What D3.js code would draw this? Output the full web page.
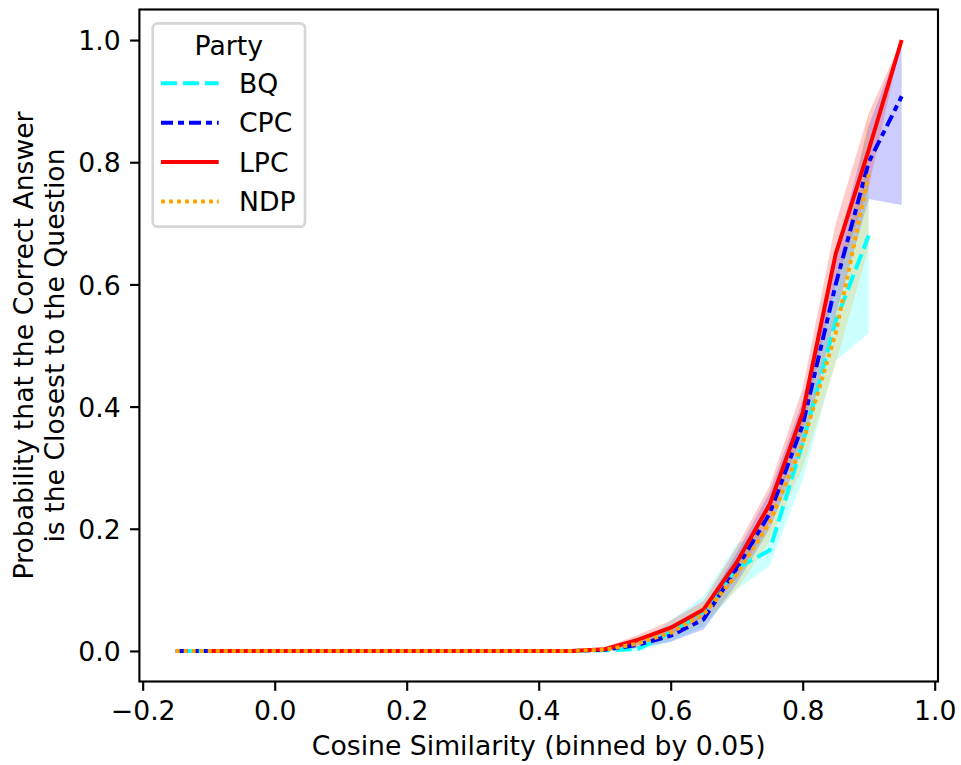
<!DOCTYPE html>
<html>
<head>
<meta charset="utf-8">
<script src="https://cdn.jsdelivr.net/npm/d3@7"></script>
<style>
  body { margin: 0; background: #fff; }
  text { font-family: "DejaVu Sans", sans-serif; fill: #000; }
</style>
</head>
<body>
<div id="vis"></div>
<script>
const WIDTH = 961;
const HEIGHT = 765;

// bins of cosine similarity
const bins = [-0.15, -0.10, -0.05, 0.00, 0.05, 0.10, 0.15, 0.20, 0.25, 0.30, 0.35, 0.40,
  0.45, 0.50, 0.55, 0.60, 0.65, 0.70, 0.75, 0.80, 0.85, 0.90, 0.95];

const parties = ["BQ", "CPC", "LPC", "NDP"];

// media por partido
const bqMean  = [0,0,0,0,0,0,0,0,0,0,0,0,0, 0.001, 0.003, 0.030, 0.065, 0.135, 0.165, 0.340, 0.540, 0.680, null];
const cpcMean = [0,0,0,0,0,0,0,0,0,0,0,0,0, 0.002, 0.010, 0.025, 0.052, 0.135, 0.225, 0.370, 0.600, 0.800, 0.908];
const lpcMean = [null,0,0,0,0,0,0,0,0,0,0,0,0, 0.003, 0.018, 0.038, 0.068, 0.145, 0.240, 0.390, 0.650, 0.820, 1.000];
const ndpMean = [0,0,0,0,0,0,0,0,0,0,0,0,0, 0.002, 0.012, 0.030, 0.060, 0.125, 0.210, 0.340, 0.520, 0.780, null];

// intervalos de confianza
const bqLow  = [0,0,0,0,0,0,0,0,0,0,0,0,0, 0.000, 0.000, 0.015, 0.040, 0.100, 0.140, 0.280, 0.475, 0.520, null];
const bqHigh = [0,0,0,0,0,0,0,0,0,0,0,0,0, 0.004, 0.008, 0.050, 0.090, 0.175, 0.200, 0.400, 0.610, 0.800, null];
const cpcLow  = [0,0,0,0,0,0,0,0,0,0,0,0,0, 0.000, 0.005, 0.015, 0.035, 0.110, 0.200, 0.330, 0.550, 0.740, 0.730];
const cpcHigh = [0,0,0,0,0,0,0,0,0,0,0,0,0, 0.005, 0.016, 0.035, 0.070, 0.160, 0.260, 0.410, 0.650, 0.860, 1.000];
const lpcLow  = [null,0,0,0,0,0,0,0,0,0,0,0,0, 0.000, 0.010, 0.028, 0.055, 0.120, 0.210, 0.360, 0.600, 0.760, 1.000];
const lpcHigh = [null,0,0,0,0,0,0,0,0,0,0,0,0, 0.006, 0.026, 0.050, 0.082, 0.170, 0.270, 0.430, 0.700, 0.880, 1.000];
const ndpLow  = [0,0,0,0,0,0,0,0,0,0,0,0,0, 0.000, 0.005, 0.020, 0.045, 0.100, 0.180, 0.300, 0.470, 0.660, null];
const ndpHigh = [0,0,0,0,0,0,0,0,0,0,0,0,0, 0.004, 0.020, 0.040, 0.075, 0.150, 0.240, 0.380, 0.570, 0.880, null];

const xTicks = [-0.2, 0.0, 0.2, 0.4, 0.6, 0.8, 1.0];
const yTicks = [0.0, 0.2, 0.4, 0.6, 0.8, 1.0];

const colores = { BQ: "#00ffff", CPC: "#0000ff", LPC: "#ff0000", NDP: "#ffa500" };
const dashes = { BQ: "16,6", CPC: "12,5,6,5", LPC: null, NDP: "4,4" };

const series = [
  { party: "BQ", mean: bqMean, low: bqLow, high: bqHigh },
  { party: "CPC", mean: cpcMean, low: cpcLow, high: cpcHigh },
  { party: "LPC", mean: lpcMean, low: lpcLow, high: lpcHigh },
  { party: "NDP", mean: ndpMean, low: ndpLow, high: ndpHigh }
];

const LEFT = 139.4, RIGHT = 938, TOP = 9.5, BOTTOM = 681.5;
const FONT = 26.67;
const TICK = 9.33;

const SVG = d3.select("#vis").append("svg")
  .attr("width", WIDTH).attr("height", HEIGHT);

const x = d3.scaleLinear().domain([-0.205, 1.005]).range([LEFT, RIGHT]);
const y = d3.scaleLinear().domain([-0.05, 1.05]).range([BOTTOM, TOP]);

// bandas (debajo de todas las lineas)
const area = d3.area()
  .defined(d => d.lo !== null)
  .x(d => x(d.x))
  .y0(d => y(d.lo))
  .y1(d => y(d.hi));

series.forEach(s => {
  const pts = bins.map((b, i) => ({ x: b, lo: s.low[i], hi: s.high[i] }));
  SVG.append("path")
    .attr("d", area(pts))
    .attr("fill", colores[s.party])
    .attr("fill-opacity", 0.2)
    .attr("stroke", "none");
});

const line = d3.line()
  .defined(d => d.v !== null)
  .x(d => x(d.x))
  .y(d => y(d.v));

series.forEach(s => {
  const pts = bins.map((b, i) => ({ x: b, v: s.mean[i] }));
  SVG.append("path")
    .attr("d", line(pts))
    .attr("fill", "none")
    .attr("stroke", colores[s.party])
    .attr("stroke-width", 4)
    .attr("stroke-linecap", "butt")
    .attr("stroke-linejoin", "round")
    .attr("stroke-dasharray", dashes[s.party]);
});

// ejes
const xAxis = d3.axisBottom(x).tickValues(xTicks).tickFormat(d3.format(".1f"))
  .tickSize(TICK).tickPadding(TICK).tickSizeOuter(0);
const yAxis = d3.axisLeft(y).tickValues(yTicks).tickFormat(d3.format(".1f"))
  .tickSize(TICK).tickPadding(TICK).tickSizeOuter(0);

const gx = SVG.append("g").attr("transform", `translate(0,${BOTTOM})`).call(xAxis);
const gy = SVG.append("g").attr("transform", `translate(${LEFT},0)`).call(yAxis);

[gx, gy].forEach(g => {
  g.select(".domain").remove();
  g.selectAll(".tick line").attr("stroke", "#000").attr("stroke-width", 2.13);
  g.selectAll(".tick text")
    .style("font-family", "DejaVu Sans, sans-serif")
    .style("font-size", FONT + "px")
    .attr("fill", "#000");
});
gx.selectAll(".tick text").attr("dy", null).attr("y", 38.5);
gy.selectAll(".tick text").attr("dy", "0.36em");

// marco
SVG.append("rect")
  .attr("x", LEFT).attr("y", TOP)
  .attr("width", RIGHT - LEFT).attr("height", BOTTOM - TOP)
  .attr("fill", "none").attr("stroke", "#000").attr("stroke-width", 2.13);

// etiquetas
SVG.append("text")
  .attr("x", (LEFT + RIGHT) / 2).attr("y", 755)
  .attr("text-anchor", "middle")
  .style("font-size", FONT + "px")
  .text("Cosine Similarity (binned by 0.05)");

const yMid = (TOP + BOTTOM) / 2;
SVG.append("text")
  .attr("transform", `translate(33,${yMid}) rotate(-90)`)
  .attr("text-anchor", "middle")
  .style("font-size", FONT + "px")
  .text("Probability that the Correct Answer");
SVG.append("text")
  .attr("transform", `translate(64,${yMid}) rotate(-90)`)
  .attr("text-anchor", "middle")
  .style("font-size", FONT + "px")
  .text("is the Closest to the Question");

// leyenda
const LEG = SVG.append("g");
LEG.append("rect")
  .attr("x", 152.7).attr("y", 23.3)
  .attr("width", 152.3).attr("height", 203.4)
  .attr("rx", 5).attr("ry", 5)
  .attr("fill", "#fff").attr("fill-opacity", 0.8)
  .attr("stroke", "#d6d6d6").attr("stroke-width", 2.67);

LEG.append("text")
  .attr("x", 228.8).attr("y", 54.5)
  .attr("text-anchor", "middle")
  .style("font-size", FONT + "px")
  .text("Party");

parties.forEach((p, i) => {
  const cy = 83.3 + i * 39.4;
  LEG.append("line")
    .attr("x1", 161).attr("x2", 218.7)
    .attr("y1", cy).attr("y2", cy)
    .attr("stroke", colores[p])
    .attr("stroke-width", 4)
    .attr("stroke-dasharray", dashes[p]);
  LEG.append("text")
    .attr("x", 239).attr("y", cy)
    .attr("dy", "0.36em")
    .style("font-size", FONT + "px")
    .text(p);
});
</script>
</body>
</html>
